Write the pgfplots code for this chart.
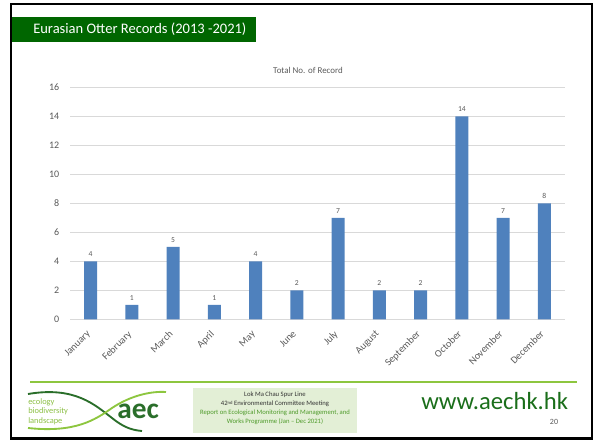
\documentclass[border=0pt]{standalone}
\usepackage{pgfplots}
\pgfplotsset{compat=1.18}
\usepackage{fontspec}
\setmainfont{Carlito}
\definecolor{barblue}{HTML}{4F81BD}
\definecolor{gridgray}{HTML}{D9D9D9}
\definecolor{textgray}{HTML}{595959}
\definecolor{titlegreen}{HTML}{006600}
\definecolor{lightgreen}{HTML}{8DC63F}
\definecolor{boxfill}{HTML}{E3EFD6}
\definecolor{boxgreen}{HTML}{4E9A2A}
\definecolor{darkaec}{HTML}{2A6E2A}
\definecolor{urlgreen}{HTML}{1A6E1A}
\begin{document}
\begin{tikzpicture}
\path[use as bounding box] (0pt,0pt) rectangle (449.25pt,330pt);
\begin{scope}[x=0.75pt,y=-0.75pt,yshift=330pt]
  % slide border
  \draw[black, line width=1.8pt] (11,4) rectangle (592,438.5);
  % title bar
  \fill[titlegreen] (12,17) rectangle (256,42);
  \node[anchor=west, text=white, font=\fontsize{10.9}{12}\selectfont, inner sep=0pt] at (33,29.5) {Eurasian Otter Records (2013 -2021)};
  % chart title
  \node[text=textgray, font=\fontsize{6.7}{8}\selectfont, inner sep=0pt] at (308,70.7) {Total No. of Record};
  % footer line
  \draw[lightgreen, line width=0.9pt] (30,382) -- (577,382);
  % logo
  \draw[darkaec, line width=1.4pt] (28,394) .. controls (75,386) and (95,405) .. (112,418) .. controls (122,426) and (130,430) .. (142,431);
  \draw[lightgreen, line width=1.4pt] (28,428) .. controls (75,433) and (95,420) .. (112,408) .. controls (130,396) and (150,391) .. (166,392);
  \node[anchor=west, text=lightgreen!90!gray, font=\fontsize{6.3}{7}\selectfont, inner sep=0pt] at (28,402) {ecology};
  \node[anchor=west, text=lightgreen!90!gray, font=\fontsize{6.3}{7}\selectfont, inner sep=0pt] at (28,411.5) {biodiversity};
  \node[anchor=west, text=lightgreen!90!gray, font=\fontsize{6.3}{7}\selectfont, inner sep=0pt] at (28,421) {landscape};
  \node[anchor=west, text=darkaec, font=\bfseries\fontsize{22}{24}\selectfont, inner sep=0pt] at (117,411) {aec};
  % center box
  \fill[boxfill] (193,388) rectangle (357,433);
  \node[text=black!80, font=\fontsize{5}{6}\selectfont, inner sep=0pt] at (275,395) {Lok Ma Chau Spur Line};
  \node[text=black!80, font=\fontsize{5}{6}\selectfont, inner sep=0pt] at (275,404) {42{\fontsize{3.5}{4}\selectfont\raisebox{1.3pt}{nd}} Environmental Committee Meeting};
  \node[text=boxgreen, font=\fontsize{5}{6}\selectfont, inner sep=0pt] at (275,413) {Report on Ecological Monitoring and Management, and};
  \node[text=boxgreen, font=\fontsize{5}{6}\selectfont, inner sep=0pt] at (275,422) {Works Programme (Jan – Dec 2021)};
  % url and page
  \node[anchor=west, text=urlgreen, font=\fontsize{18.5}{20}\selectfont, inner sep=0pt] at (421,401) {www.aechk.hk};
  \node[text=textgray, font=\fontsize{6}{7}\selectfont, inner sep=0pt] at (554,422) {20};
\end{scope}
\begin{axis}[
  at={(52.5pt,90.5pt)}, anchor=south west,
  width=371.25pt, height=174pt, scale only axis,
  xmin=-0.5, xmax=11.5, ymin=0, ymax=16,
  ybar, bar width=9.6pt,
  xtick={0,...,11},
  xticklabels={January,February,March,April,May,June,July,August,September,October,November,December},
  ytick={0,2,...,16},
  ymajorgrids, grid style={gridgray, line width=0.7pt},
  axis x line*=bottom, axis y line*=left,
  x axis line style={gridgray, line width=0.7pt},
  y axis line style={draw=none},
  major tick length=0pt, tick style={draw=none},
  /pgf/number format/assume math mode=true,
  yticklabel style={font=\fontsize{7.5}{8}\selectfont, text=textgray, xshift=-4.5pt},
  xticklabel style={font=\fontsize{7.6}{8}\selectfont, text=textgray, xshift=-3.5pt, yshift=-5.5pt, rotate=45, anchor=north east, inner sep=1.5pt},
  nodes near coords,
  nodes near coords style={font=\fontsize{5.7}{6}\selectfont, text=textgray},
]
\addplot[fill=barblue, draw=none] coordinates {
(0,4) (1,1) (2,5) (3,1) (4,4) (5,2) (6,7) (7,2) (8,2) (9,14) (10,7) (11,8)};
\end{axis}
\end{tikzpicture}
\end{document}
